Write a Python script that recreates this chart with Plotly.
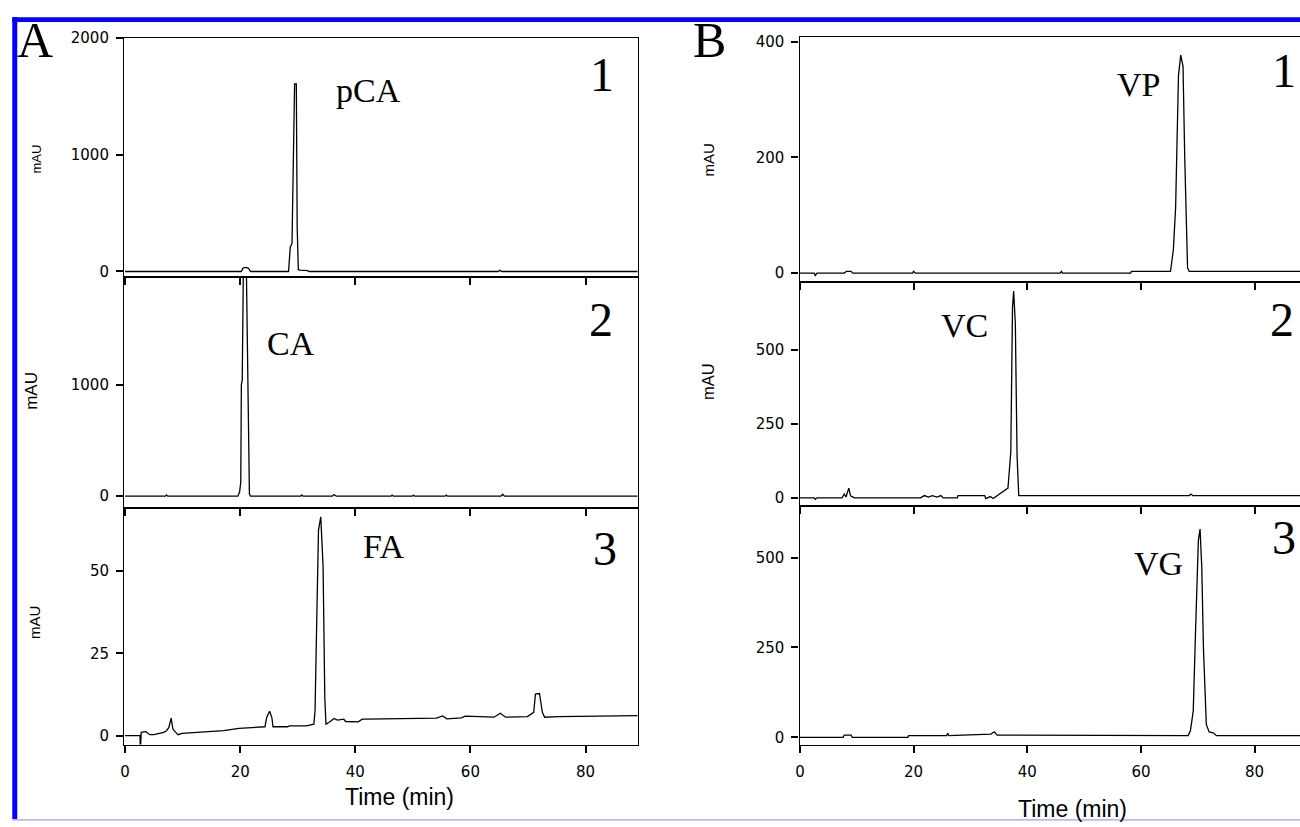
import plotly.graph_objects as go

W, H = 1300, 827

# ---------------- data ----------------
x_ticks = [0, 20, 40, 60, 80]

# Panel A, trace 1 : pCA
a1_time = [0, 20.2, 20.5, 20.9, 21.4, 21.8, 28.4, 28.7, 29.0, 29.25, 29.45, 29.75, 29.9,
           30.1, 30.4, 31.7, 32.0, 64.8, 65.1, 65.4, 89.2]
a1_mau = [0, 0, 30, 35, 30, 0, 0, 210, 240, 1260, 1605, 1605, 380,
          15, 12, 8, 0, 0, 10, 0, 0]

# Panel A, trace 2 : CA
a2_time = [0, 7.0, 7.2, 7.4, 19.6, 19.9, 20.1, 20.2, 20.35, 20.6, 21.0, 21.4, 21.6, 21.8,
           30.5, 30.7, 30.9, 36.0, 36.3, 36.7, 46.2, 46.4, 46.6, 49.9, 50.1, 50.3,
           55.6, 55.8, 56.0, 65.3, 65.6, 65.9, 89.2]
a2_mau = [0, 0, 12, 0, 0, 40, 130, 1000, 1040, 2300, 2300, 400, 20, 0,
          0, 12, 0, 0, 15, 0, 0, 10, 0, 0, 10, 0,
          0, 10, 0, 0, 18, 0, 0]

# Panel A, trace 3 : FA
a3_time = [0, 2.6, 2.65, 2.8, 3.6, 4.3, 5.0, 6.7, 7.2, 7.6, 8.0, 8.3, 8.8, 9.2, 9.9,
           14.3, 17.1, 19.8, 23.9, 24.3, 24.6, 25.1, 25.5, 25.7, 28.2, 28.6, 31.5, 31.9,
           32.8, 33.0, 33.3, 33.6, 34.0, 34.4, 34.7, 34.9, 35.4, 36.3, 36.9, 38.0, 38.3,
           40.5, 41.2, 41.9, 54.1, 55.2, 55.9, 58.4, 59.1, 64.1, 65.2, 66.1, 69.9, 71.0,
           71.3, 72.0, 72.5, 72.9, 75.3, 89.2]
a3_mau = [0, 0, -5, 1.0, 1.2, 0.3, 0.3, 1.0, 1.5, 2.5, 5.3, 2.0, 1.0, 0.3, 0.7,
          1.2, 1.5, 2.2, 2.5, 2.7, 5.5, 7.4, 5.5, 2.7, 2.7, 3.0, 3.0, 3.2,
          3.5, 7.5, 31.4, 62.4, 66.4, 51.4, 11.4, 3.5, 4.0, 5.2, 4.7, 5.0, 4.3,
          4.2, 5.0, 5.0, 5.3, 6.0, 5.1, 5.4, 5.9, 5.6, 6.8, 5.6, 5.8, 7.1,
          12.6, 12.8, 7.1, 5.6, 5.8, 6.1]

# Panel B, trace 1 : VP
b1_time = [0, 2.5, 2.7, 3.0, 7.8, 8.2, 9.0, 9.3, 19.8, 20.0, 20.3, 45.8, 46.0, 46.2,
           58.2, 58.3, 65.2, 65.7, 66.1, 66.6, 67.0, 67.4, 67.7, 68.2, 68.5, 88.0]
b1_mau = [0, 0, -4, 0, 0, 3, 3, 0, 0, 3, 0, 0, 3, 0,
          0, 2.8, 2.8, 40, 114, 341, 377, 358, 202, 8.7, 2.8, 2.8]

# Panel B, trace 2 : VC
b2_time = [0, 2.5, 2.7, 3.0, 7.4, 7.8, 8.1, 8.6, 8.9, 9.6, 21.2, 21.9, 22.6, 23.3, 24.1,
           24.8, 25.2, 27.7, 27.8, 32.5, 32.7, 33.5, 34.0, 34.7, 36.6, 37.1, 37.4, 37.6,
           37.9, 38.2, 38.5, 68.5, 68.8, 69.1, 88.0]
b2_mau = [0, 0, -5, 0, 0, 13, 3, 33, 7, 0, 0, 7.8, 3, 7.8, 3,
          7.8, 0, 0, 7.8, 7.8, -2.2, 4.5, -2.2, 7.8, 33, 155, 644, 700,
          589, 144, 7.8, 7.8, 13, 7.8, 7.8]

# Panel B, trace 3 : VG
b3_time = [0, 7.6, 7.8, 9.0, 9.2, 19.0, 19.1, 25.8, 26.0, 26.2, 33.6, 34.2, 34.7,
           68.3, 68.7, 69.2, 69.6, 70.1, 70.4, 70.7, 71.0, 71.5, 72.0, 72.7, 73.3, 88.0]
b3_mau = [0, 0, 6.4, 6.4, 0, 0, 4.6, 4.6, 11, 4.6, 9, 15.5, 6.4,
          5, 18, 73, 292, 547, 579, 474, 246, 36, 15, 12.7, 4.6, 4.6]

a1_ticks = [0, 1000, 2000]
a2_ticks = [0, 1000]
a3_ticks = [0, 25, 50]
b1_ticks = [0, 200, 400]
b2_ticks = [0, 250, 500]
b3_ticks = [0, 250, 500]

peak_labels = ["pCA", "CA", "FA", "VP", "VC", "VG"]
trace_numbers = ["1", "2", "3", "1", "2", "3"]
panel_letters = ["A", "B"]
y_title = "mAU"
x_title = "Time (min)"


# ---------------- helpers (window pixel -> paper) ----------------
def px(x):
    return min(1.0, max(0.0, x / W))


def py(y):
    return min(1.0, max(0.0, 1 - y / H))


TICKFONT = dict(family="DejaVu Sans", size=15, color="black")
SERIF = "Liberation Serif, Times New Roman, serif"
SANS = "Liberation Sans, Arial, sans-serif"

fig = go.Figure()
series = [
    (a1_time, a1_mau, "x", "y"),
    (a2_time, a2_mau, "x2", "y2"),
    (a3_time, a3_mau, "x3", "y3"),
    (b1_time, b1_mau, "x4", "y4"),
    (b2_time, b2_mau, "x5", "y5"),
    (b3_time, b3_mau, "x6", "y6"),
]
for t, v, xa, ya in series:
    fig.add_trace(go.Scatter(x=t, y=v, mode="lines", xaxis=xa, yaxis=ya,
                             line=dict(color="black", width=1.3),
                             showlegend=False, hoverinfo="skip"))


def xaxis(dom, rng, anchor, labels):
    return dict(domain=dom, range=rng, anchor=anchor, showline=True, linecolor="black",
                linewidth=1.3, mirror=True, ticks="outside", ticklen=7, tickwidth=2,
                tickcolor="black", tickvals=x_ticks, showticklabels=labels,
                showgrid=False, zeroline=False, tickfont=TICKFONT,
                ticklabelstandoff=6)


def yaxis(dom, rng, anchor, tv, mirror):
    return dict(domain=dom, range=rng, anchor=anchor, showline=True, linecolor="black",
                linewidth=1.3, mirror=mirror, ticks="outside", ticklen=7, tickwidth=2,
                tickcolor="black", tickvals=tv, showgrid=False, zeroline=False,
                tickfont=TICKFONT, ticklabelstandoff=4)


ax_dom = [px(120.5), px(635.5)]
bx_dom = [px(798), 1.0]
ax_rng = [-0.17, 89.04]
bx_rng = [-0.07, (W - 798.4) / 5.701]

layout = dict(
    width=W, height=H, autosize=False,
    margin=dict(l=0, r=0, t=0, b=0),
    paper_bgcolor="white", plot_bgcolor="white",
    xaxis=xaxis(ax_dom, ax_rng, "y", False),
    xaxis2=xaxis(ax_dom, ax_rng, "y2", False),
    xaxis3=xaxis(ax_dom, ax_rng, "y3", True),
    xaxis4=xaxis(bx_dom, bx_rng, "y4", False),
    xaxis5=xaxis(bx_dom, bx_rng, "y5", False),
    xaxis6=xaxis(bx_dom, bx_rng, "y6", True),
    yaxis=yaxis([py(272), py(29.3)], [-44.7, 2000], "x", a1_ticks, True),
    yaxis2=yaxis([py(507), py(272)], [-106, 1968], "x2", a2_ticks, True),
    yaxis3=yaxis([py(747.3), py(507)], [-2.7, 69.1], "x3", a3_ticks, True),
    yaxis4=yaxis([py(277), py(28.3)], [-14.8, 408.5], "x4", b1_ticks, False),
    yaxis5=yaxis([py(505), py(277)], [-27.7, 732], "x5", b2_ticks, False),
    yaxis6=yaxis([py(747.3), py(505)], [-20, 643], "x6", b3_ticks, False),
)
fig.update_layout(**layout)

ann = []


def text(s, x, y, size, family, angle=0):
    ann.append(dict(text=s, x=px(x), y=py(y), xref="paper", yref="paper",
                    xanchor="center", yanchor="middle", showarrow=False,
                    textangle=angle, font=dict(family=family, size=size, color="black")))


# panel letters
text(panel_letters[0], 31, 31.5, 50, SERIF)
text(panel_letters[1], 708, 32, 50, SERIF)
# peak labels
label_pos = [(366, 82.5), (288, 340), (381, 546.5), (1138.5, 76.5), (963, 321.5), (1158, 563)]
for s, (x, y) in zip(peak_labels, label_pos):
    text(s, x, y, 34, SERIF)
num_pos = [(600, 66.5), (599, 315), (603, 548.5), (1284, 62.5), (1282, 315), (1284, 536.5)]
for s, (x, y) in zip(trace_numbers, num_pos):
    text(s, x, y, 48, SERIF)
# y titles
for (x, y, sz) in [(33, 152, 13), (28, 388, 17), (30, 623, 15), (707, 153, 15), (706, 378, 16.5)]:
    text(y_title, x, y, sz, SANS, -90)
# x titles
text(x_title, 397, 801, 23, SANS)
text(x_title, 1071.5, 813, 23, SANS)
fig.update_layout(annotations=ann)

# blue frame
shapes = [
    dict(type="rect", xref="paper", yref="paper", x0=px(8.3), x1=1.0, y0=py(13.3), y1=py(8.3),
         fillcolor="#0000ff", line=dict(width=0), layer="above"),
    dict(type="rect", xref="paper", yref="paper", x0=px(8.3), x1=px(13.3), y0=py(823), y1=py(8.3),
         fillcolor="#0000ff", line=dict(width=0), layer="above"),
    dict(type="line", xref="paper", yref="paper", x0=px(8.3), x1=1.0, y0=py(823.8), y1=py(823.8),
         line=dict(color="#b8b8ff", width=1.6), layer="above"),
]
fig.update_layout(shapes=shapes)

# place the figure at the very corner of the page (no body margin, no scrollbars)
fig.write_html("out.html",
               config={"displayModeBar": False},
               post_script="document.body.style.margin='0';"
                           "document.body.style.overflow='hidden';")
